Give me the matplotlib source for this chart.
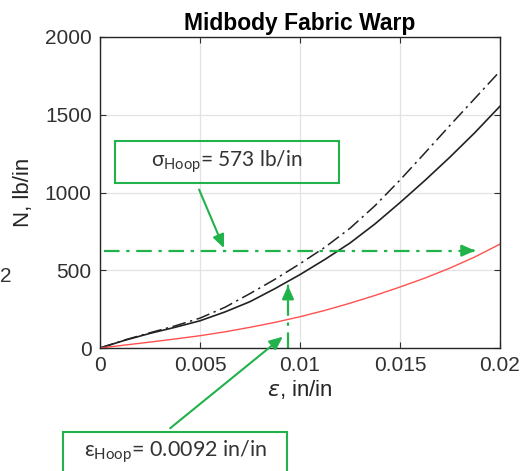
import matplotlib.pyplot as plt
from matplotlib.patches import Rectangle

plt.rcParams['font.family'] = ['Liberation Sans', 'DejaVu Sans']
plt.rcParams['mathtext.fontset'] = 'custom'
plt.rcParams['mathtext.rm'] = 'Lato'
plt.rcParams['mathtext.it'] = 'DejaVu Sans:italic'

# strain, in/in
strain = [0, 0.00125, 0.0025, 0.00375, 0.005, 0.00625, 0.0075, 0.00875, 0.01,
          0.01125, 0.0125, 0.01375, 0.015, 0.01625, 0.0175, 0.01875, 0.02]
# load, lb/in
n_solid = [0, 50, 94, 133, 175, 232, 298, 382, 472, 570, 675, 798, 935, 1078, 1228, 1386, 1555]
n_dashdot = [0, 52, 98, 142, 192, 262, 350, 442, 542, 648, 770, 915, 1080, 1255, 1432, 1606, 1780]
n_red = [0, 19, 38, 58, 79, 104, 133, 165, 201, 242, 288, 338, 392, 450, 514, 586, 668]

hoop_load = 626
hoop_strain = 0.0094
green = '#22B24C'

fig = plt.figure(figsize=(5.28, 4.71), dpi=100)
ax = fig.add_axes([100/528, 1 - 348/471, 400/528, 311/471])

ax.plot(strain, n_dashdot, color='#222222', lw=1.1, linestyle=(0, (9, 3, 1.5, 3)))
ax.plot(strain, n_solid, color='#222222', lw=1.2)
ax.plot(strain, n_red, color='#FF5050', lw=1.0)

# green guide lines with arrowheads
ax.plot([0.0002, 0.0187], [hoop_load, hoop_load], color=green, lw=1.6,
        linestyle=(0, (7, 3, 1.5, 3)))
ax.annotate('', xy=(0.0189, hoop_load), xytext=(0.0185, hoop_load),
            arrowprops=dict(arrowstyle='-|>,head_length=0.8,head_width=0.35',
                            color=green, lw=1.6))
ax.plot([hoop_strain, hoop_strain], [0, 390], color=green, lw=1.6,
        linestyle=(0, (7, 3, 1.5, 3)))
ax.annotate('', xy=(hoop_strain, 420), xytext=(hoop_strain, 380),
            arrowprops=dict(arrowstyle='-|>,head_length=0.8,head_width=0.35',
                            color=green, lw=1.6))

ax.set_xlim(0, 0.02)
ax.set_ylim(0, 2000)
ax.set_xticks([0, 0.005, 0.01, 0.015, 0.02])
ax.set_xticklabels(['0', '0.005', '0.01', '0.015', '0.02'])
ax.set_yticks([0, 500, 1000, 1500, 2000])
ax.grid(True, color='#E3E3E3', lw=0.9)
ax.tick_params(direction='in', top=True, right=True, labelsize=15, colors='#303030',
               length=4, pad=6)
for s in ax.spines.values():
    s.set_color('#262626')
    s.set_linewidth(1.0)
ax.set_title('Midbody Fabric Warp', fontsize=16.5, fontweight='bold', pad=5)
ax.set_xlabel(r'$\epsilon$, in/in', fontsize=16, color='#262626', labelpad=2)
ax.set_ylabel('N, lb/in', fontsize=16, color='#262626', labelpad=8)

# annotation boxes (figure pixels)
fig.patches.append(Rectangle((115, 288), 224, 42, transform=None, fill=False,
                             edgecolor=green, lw=1.5))
fig.text(227/528, 309/471, r'σ$_{\mathrm{Hoop}}$= 573 lb/in', family='Lato',
         fontsize=15, color='#333333', ha='center', va='center')
ax.annotate('', xy=(0.00625, hoop_load), xytext=(198, 284), textcoords='figure pixels',
            arrowprops=dict(arrowstyle='-|>,head_length=0.8,head_width=0.35',
                            color=green, lw=1.5), annotation_clip=False)

fig.patches.append(Rectangle((63, -4), 224, 43, transform=None, fill=False,
                             edgecolor=green, lw=1.5))
fig.text(176/528, 19/471, r'ε$_{\mathrm{Hoop}}$= 0.0092 in/in', family='Lato',
         fontsize=15.5, color='#333333', ha='center', va='center')
ax.annotate('', xy=(0.00925, 84), xytext=(168, 41), textcoords='figure pixels',
            arrowprops=dict(arrowstyle='-|>,head_length=0.8,head_width=0.35',
                            color=green, lw=1.5), annotation_clip=False)

fig.text(0, 194/471, '2', fontsize=15, color='#333333', ha='left', va='center')

fig.savefig('out.png', dpi=100)
